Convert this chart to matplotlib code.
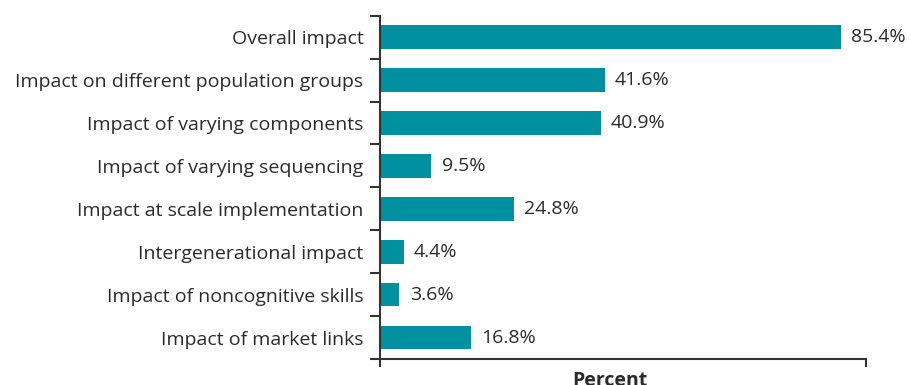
import matplotlib
matplotlib.use("Agg")
import matplotlib.pyplot as plt
import numpy as np

categories = [
    "Overall impact",
    "Impact on different population groups",
    "Impact of varying components",
    "Impact of varying sequencing",
    "Impact at scale implementation",
    "Intergenerational impact",
    "Impact of noncognitive skills",
    "Impact of market links",
]
values = [85.4, 41.6, 40.9, 9.5, 24.8, 4.4, 3.6, 16.8]
value_labels = ["85.4%", "41.6%", "40.9%", "9.5%", "24.8%", "4.4%", "3.6%", "16.8%"]

plt.rcParams["font.family"] = ["Open Sans", "DejaVu Sans"]

fig = plt.figure(figsize=(9.11, 3.85), dpi=100)
ax = fig.add_axes([380 / 911, 1 - 359 / 385, 486 / 911, (359 - 15.7) / 385])

bar_color = "#0090a0"
text_color = "#2b2b2b"
spine_color = "#333333"

y = np.arange(len(categories))
ax.barh(y, values, height=0.55, color=bar_color)
for yi, v, lab in zip(y, values, value_labels):
    ax.text(v + 1.9, yi, lab, va="center", ha="left", fontsize=14, color=text_color)

ax.set_xlim(0, 90)
ax.set_ylim(len(categories) - 0.5, -0.5)

ax.set_yticks(y)
ax.set_yticklabels(categories, fontsize=14, color=text_color)
ax.tick_params(axis="y", which="major", length=0, pad=12)
ax.set_yticks(np.arange(len(categories) + 1) - 0.5, minor=True)
ax.tick_params(axis="y", which="minor", length=7, width=1.5, color=spine_color, direction="out")

ax.set_xticks([0, 90])
ax.set_xticklabels([])
ax.tick_params(axis="x", length=6, width=1.5, color=spine_color, direction="out")

for s in ["top", "right"]:
    ax.spines[s].set_visible(False)
for s in ["left", "bottom"]:
    ax.spines[s].set_color(spine_color)
    ax.spines[s].set_linewidth(1.5)

ax.text(0.473, -0.036, "Percent", transform=ax.transAxes, ha="center", va="top",
        fontsize=14, fontweight="bold", color=text_color)

fig.savefig("out.png", dpi=100)
